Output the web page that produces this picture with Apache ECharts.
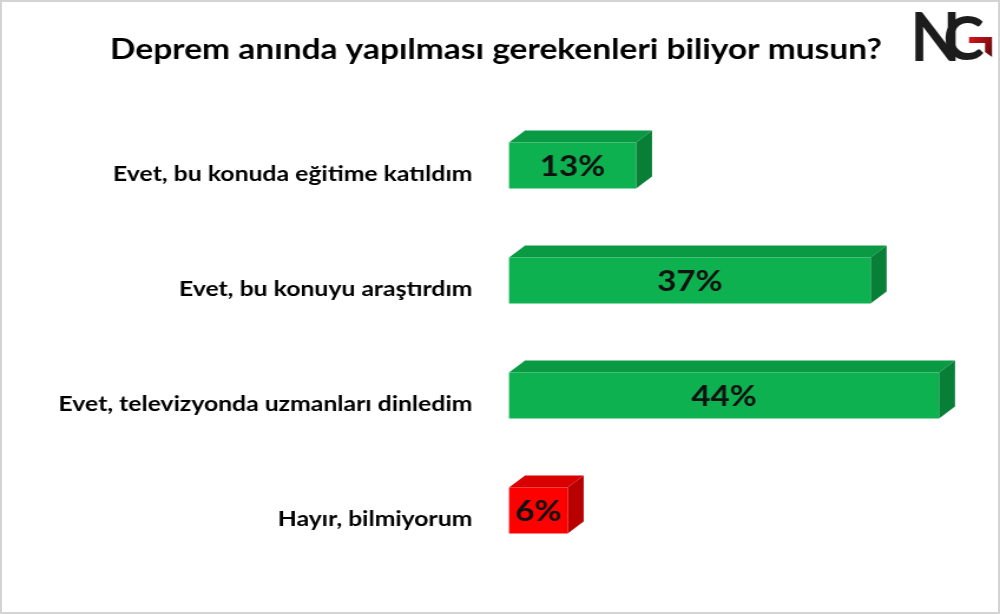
<!DOCTYPE html>
<html>
<head>
<meta charset="utf-8">
<script src="https://cdn.jsdelivr.net/npm/echarts@6/dist/echarts.min.js"></script>
<style>
  html, body { margin: 0; padding: 0; background: #ffffff; overflow: hidden; }
  #frame { position: relative; width: 1000px; height: 614px; overflow: hidden; background: #ffffff; }
  #frame::after {
    content: ''; position: absolute; left: 0; top: 0; right: 0; bottom: 0;
    border: 2px solid #d4d4d4; pointer-events: none;
  }
  /* the slide is laid out 848 wide and widened to the full 1000 px frame */
  #chart {
    position: absolute; left: 0; top: 0; width: 848px; height: 614px;
    transform: scaleX(1.17925); transform-origin: 0 0;
  }
</style>
</head>
<body>
<div id="frame"><div id="chart"></div></div>
<script>
// Survey answers and their shares (%)
const titleText = 'Deprem anında yapılması gerekenleri biliyor musun?';
const categories = [
  'Evet, bu konuda eğitime katıldım',
  'Evet, bu konuyu araştırdım',
  'Evet, televizyonda uzmanları dinledim',
  'Hayır, bilmiyorum'
];
const values = [13, 37, 44, 6];
// Face colours per answer: [front, top, side]
const faceColors = [
  ['#0db14f', '#0a9a44', '#087f37'],
  ['#0db14f', '#0a9a44', '#087f37'],
  ['#0db14f', '#0a9a44', '#087f37'],
  ['#ff0000', '#d80000', '#b80000']
];

const STRETCH = 1000 / 848;
const DEPTH_X = 16 / STRETCH, DEPTH_Y = 12;
const FONT = 'Lato, "Open Sans", sans-serif';

const chart = echarts.init(document.getElementById('chart'), null, { renderer: 'canvas' });

// Each answer is drawn as a box: top face, side face, front face and its value
function renderBox(params, api) {
  const idx = api.value(1);
  const v = api.value(0);
  const start = api.coord([0, idx]);
  const end = api.coord([v, idx]);
  const h = api.size([0, 1])[1] * 0.4;
  const x0 = start[0], x1 = end[0];
  const y0 = end[1] - h / 2, y1 = end[1] + h / 2;
  const c = faceColors[idx];
  return {
    type: 'group',
    children: [
      {
        type: 'polygon',
        shape: { points: [[x0, y0], [x0 + DEPTH_X, y0 - DEPTH_Y], [x1 + DEPTH_X, y0 - DEPTH_Y], [x1, y0]] },
        style: { fill: c[1] }
      },
      {
        type: 'polygon',
        shape: { points: [[x1, y0], [x1 + DEPTH_X, y0 - DEPTH_Y], [x1 + DEPTH_X, y1 - DEPTH_Y], [x1, y1]] },
        style: { fill: c[2] }
      },
      {
        type: 'rect',
        shape: { x: x0, y: y0, width: x1 - x0, height: h },
        style: { fill: c[0] }
      },
      {
        type: 'text',
        x: (x0 + x1) / 2,
        y: end[1] + 1,
        style: {
          text: v + '%',
          fill: '#111111',
          font: 'bold 28px ' + FONT,
          align: 'center',
          verticalAlign: 'middle'
        }
      }
    ]
  };
}

chart.setOption({
  backgroundColor: 'transparent',
  animation: false,
  title: {
    text: titleText,
    left: 490 / STRETCH,
    top: 31,
    textAlign: 'center',
    textStyle: { fontFamily: FONT, fontWeight: 'bold', fontSize: 28.4, color: '#000000' }
  },
  grid: { left: 509 / STRETCH, right: 2, top: 108, bottom: 46 },
  xAxis: {
    type: 'value', min: 0, max: 50,
    show: false
  },
  yAxis: {
    type: 'category',
    data: categories,
    inverse: true,
    axisLine: { show: false },
    axisTick: { show: false },
    splitLine: { show: false },
    axisLabel: {
      margin: 31,
      verticalAlign: 'top',
      lineHeight: 18,
      fontFamily: FONT,
      fontWeight: 'bold',
      fontSize: 21,
      color: '#000000'
    }
  },
  series: [{
    type: 'custom',
    renderItem: renderBox,
    encode: { x: 0, y: 1 },
    data: values.map((v, i) => [v, i])
  }],
  graphic: [
    // NG logo, kept at its own proportions
    {
      type: 'group',
      x: 910 / STRETCH,
      y: 0,
      scaleX: 1 / STRETCH,
      children: [
        {
          type: 'text',
          x: 0, y: 7,
          style: { text: 'N', font: 'bold 66px ' + FONT, fill: '#1c1c1c', verticalAlign: 'top' }
        },
        {
          type: 'text',
          x: 33, y: 9,
          style: { text: 'C', font: 'bold 62px ' + FONT, fill: '#1c1c1c', verticalAlign: 'top' }
        },
        {
          type: 'polygon',
          shape: { points: [[59, 37], [82, 37], [82, 57], [75, 52], [75, 43], [59, 43]] },
          style: {
            fill: new echarts.graphic.LinearGradient(0, 0, 1, 1, [
              { offset: 0, color: '#d8141b' },
              { offset: 1, color: '#5a0a0c' }
            ])
          }
        }
      ]
    }
  ]
});
</script>
</body>
</html>
